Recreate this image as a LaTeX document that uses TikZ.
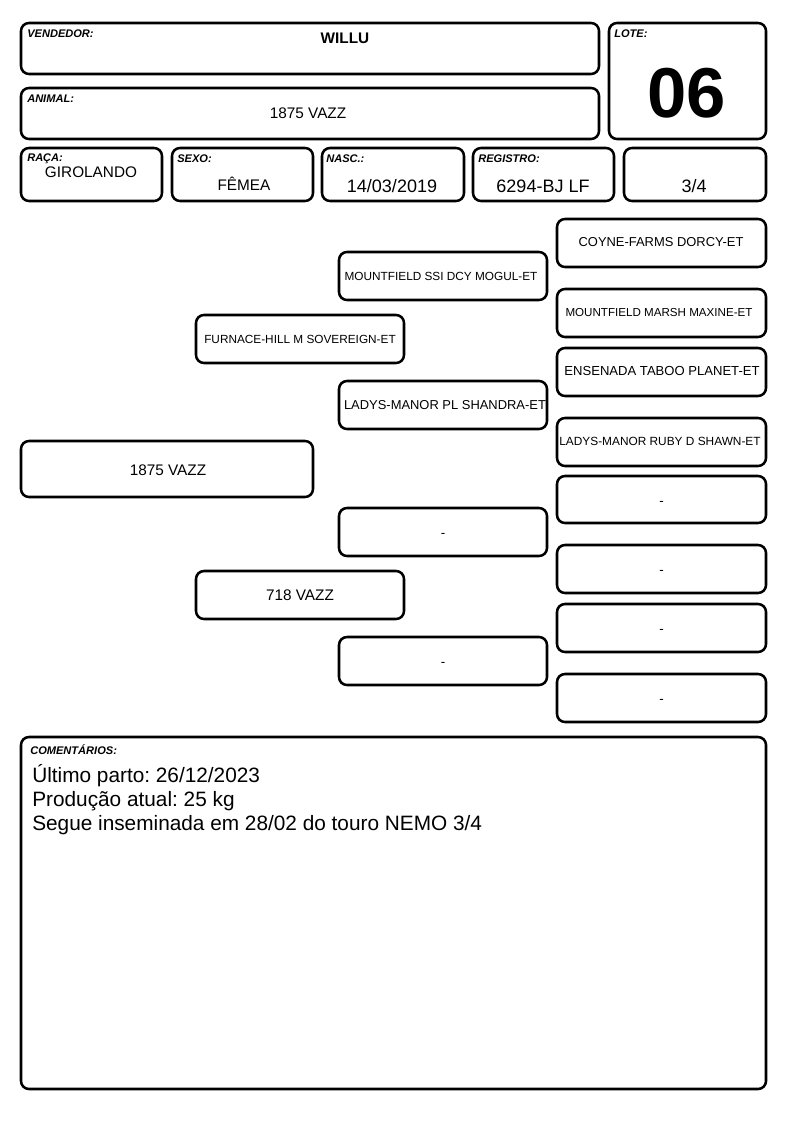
\documentclass[tikz,border=0pt]{standalone}
\usepackage{fontspec}
\setmainfont{Liberation Sans}
\usetikzlibrary{fit}
\frenchspacing
\tikzset{
  card/.style={draw=black, line width=1.9pt, rounded corners=6pt, inner sep=0pt, fill=white},
  lab/.style={anchor=north west, inner sep=0pt, font=\fontsize{8.3}{9}\selectfont\bfseries\itshape},
  val/.style={inner sep=0pt, anchor=center},
  dashval/.style={inner sep=0pt, anchor=center, font=\fontsize{10}{10}\selectfont, yshift=-2.8pt},
}
\newcommand{\fs}[1]{\fontsize{#1}{#1}\selectfont}
\begin{document}
\begin{tikzpicture}[x=0.75pt,y=-0.75pt]
\useasboundingbox (0,0) rectangle (794,1123);
\fill[white] (0,0) rectangle (794,1123);
% header boxes
\node[card, fit={(21,23)(599,74)}] (vend) {};
\node[card, fit={(21,88)(599,139)}] (anim) {};
\node[card, fit={(609,23)(766,139)}] (lote) {};
\node[card, fit={(21,148)(162,201)}] (raca) {};
\node[card, fit={(172,148)(313,201)}] (sexo) {};
\node[card, fit={(322,148)(464,201)}] (nasc) {};
\node[card, fit={(473,148)(614,201)}] (reg) {};
\node[card, fit={(624,148)(766,201)}] (grau) {};

\node[lab] (vendl) at (27,30) {VENDEDOR:};
\node[val, font=\fs{11.5}\bfseries] (vendv) at (345,38) {WILLU};
\node[lab] (animl) at (27,95) {ANIMAL:};
\node[val, font=\fs{11.5}] (animv) at (308,113) {1875 VAZZ};
\node[lab] (lotel) at (614,30) {LOTE:};
\node[val, font=\fs{53}\bfseries] (lotev) at (687,93) {06};
\node[lab] (racal) at (27,154) {RAÇA:};
\node[val, font=\fs{11.5}] (racav) at (91,172) {GIROLANDO};
\node[lab] (sexol) at (177,155) {SEXO:};
\node[val, font=\fs{11.5}] (sexov) at (244,184) {FÊMEA};
\node[lab] (nascl) at (326,155) {NASC.:};
\node[val, font=\fs{13.5}] (nascv) at (392,186) {14/03/2019};
\node[lab] (regl) at (478,155) {REGISTRO:};
\node[val, font=\fs{13.5}] (regv) at (543,186) {6294-BJ LF};
\node[val, font=\fs{13.5}] (grauv) at (694,186) {3/4};

% pedigree
\node[card, fit={(21,441)(313,497)}] (p0) {};
\node[val, font=\fs{11.5}] (t0) at (168,470) {1875 VAZZ};
\node[card, fit={(196,315)(404,363)}] (p1) {};
\node[val, font=\fs{8.85}] (t1) at (300,339) {FURNACE-HILL M SOVEREIGN-ET};
\node[card, fit={(196,571)(404,619)}] (p2) {};
\node[val, font=\fs{11.5}] (t2) at (p2.center) {718 VAZZ};
\node[card, fit={(339,252)(547,300)}] (p3) {};
\node[val, font=\fs{8.85}] (t3) at (441,276) {MOUNTFIELD SSI DCY MOGUL-ET};
\node[card, fit={(339,381)(547,429)}] (p4) {};
\node[val, font=\fs{9.7}] (t4) at (445,405) {LADYS-MANOR PL SHANDRA-ET};
\node[card, fit={(339,508)(547,556)}] (p5) {};
\node[dashval] (t5) at (p5.center) {-};
\node[card, fit={(339,637)(547,685)}] (p6) {};
\node[dashval] (t6) at (p6.center) {-};
\node[card, fit={(557,219)(766,267)}] (p7) {};
\node[val, font=\fs{9.7}] (t7) at (661,242) {COYNE-FARMS DORCY-ET};
\node[card, fit={(557,289)(766,337)}] (p8) {};
\node[val, font=\fs{8.7}] (t8) at (659,313) {MOUNTFIELD MARSH MAXINE-ET};
\node[card, fit={(557,348)(766,396)}] (p9) {};
\node[val, font=\fs{9.8}] (t9) at (662,371) {ENSENADA TABOO PLANET-ET};
\node[card, fit={(557,418)(766,466)}] (p10) {};
\node[val, font=\fs{8.9}] (t10) at (660,441) {LADYS-MANOR RUBY D SHAWN-ET};
\node[card, fit={(557,476)(766,523)}] (p11) {};
\node[dashval] (t11) at (p11.center) {-};
\node[card, fit={(557,545)(766,593)}] (p12) {};
\node[dashval] (t12) at (p12.center) {-};
\node[card, fit={(557,604)(766,652)}] (p13) {};
\node[dashval] (t13) at (p13.center) {-};
\node[card, fit={(557,674)(766,722)}] (p14) {};
\node[dashval] (t14) at (p14.center) {-};

% comments
\node[card, fit={(21,737)(766,1089)}] (com) {};
\node[lab] (coml) at (30,744) {COMENTÁRIOS:};
\node[anchor=north west, inner sep=0pt, align=left, font=\fontsize{15.6}{18}\selectfont] (comv) at (32,764)
  {Último parto: 26/12/2023\\Produção atual: 25 kg\\Segue inseminada em 28/02 do touro NEMO 3/4};
\end{tikzpicture}
\end{document}
